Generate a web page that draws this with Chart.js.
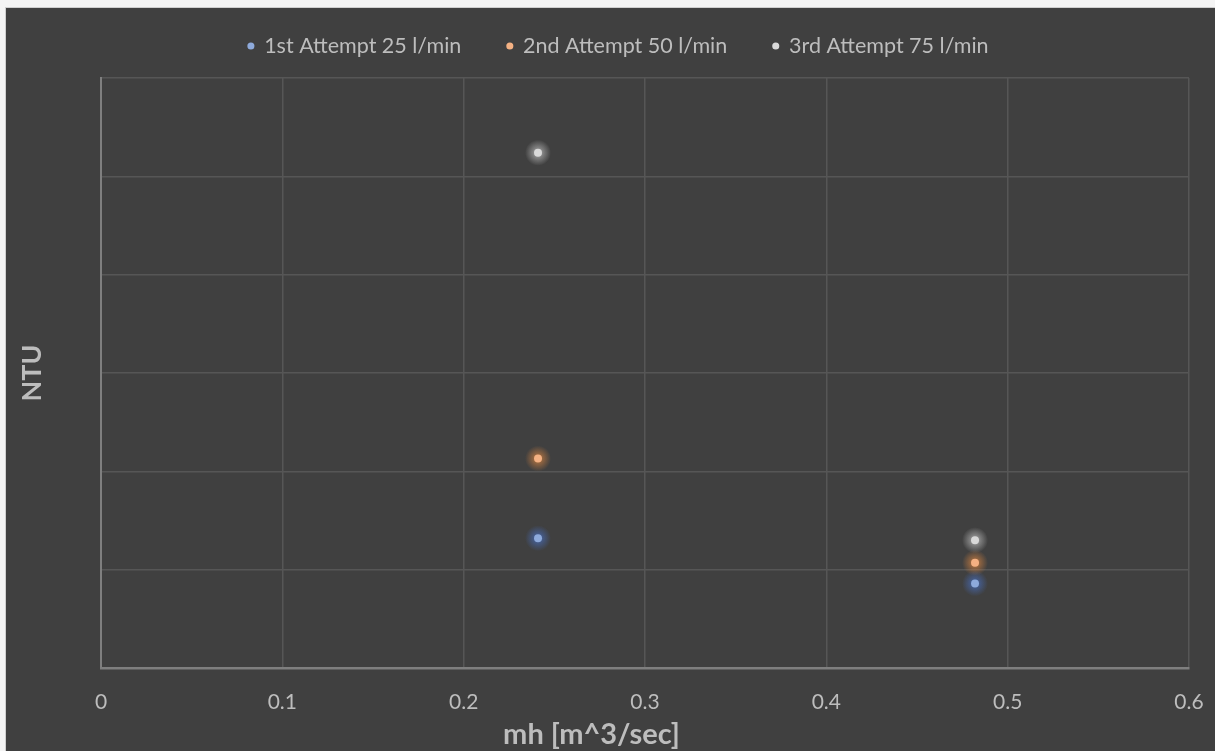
<!DOCTYPE html>
<html>
<head>
<meta charset="utf-8">
<title>NTU vs mh</title>
<script src="https://cdn.jsdelivr.net/npm/chart.js@4/dist/chart.umd.min.js"></script>
<style>
  html, body { margin: 0; padding: 0; background: #f4f4f4; }
  #wrap {
    position: absolute; left: 5px; top: 7px;
    width: 1210px; height: 744px;
    background: #404040;
    border-top: 1px solid #cfcfcf; border-left: 1px solid #cfcfcf;
    box-sizing: border-box;
  }
</style>
</head>
<body>
<div id="wrap"><canvas id="chart"></canvas></div>
<script>
// Flow rate mh [m^3/sec] at which each turbidity reading was taken
const mhValues = [0.241, 0.482];

// Turbidity readings (NTU) for each attempt
const attempt1 = [13.2, 8.6];
const attempt2 = [21.3, 10.7];
const attempt3 = [52.4, 13.0];

const seriesNames = ['1st Attempt 25 l/min', '2nd Attempt 50 l/min', '3rd Attempt 75 l/min'];
const seriesColors = ['#8eaadb', '#f4b183', '#d9d9d9'];
const glowRGB = ['74,118,210', '236,142,66', '210,210,210'];

const xTicks = [0, 0.1, 0.2, 0.3, 0.4, 0.5, 0.6];
const xTitle = 'mh [m^3/sec]';
const yTitle = 'NTU';

const TEXT = '#bdbdbd';
const GRID = '#565656';
const AXIS = '#7f7f7f';
const FONT = 'Lato, "Open Sans", sans-serif';

function toPoints(ys) {
  return mhValues.map((x, i) => ({ x: x, y: ys[i] }));
}

const seriesValues = [attempt1, attempt2, attempt3];
const datasets = seriesValues.map((ys, i) => ({
  label: seriesNames[i],
  data: toPoints(ys),
  backgroundColor: seriesColors[i],
  borderColor: seriesColors[i],
  pointRadius: 4,
  pointBorderWidth: 0,
  glow: glowRGB[i]
}));

// soft halo painted under every marker
const glowPlugin = {
  id: 'glow',
  beforeDatasetDraw(chart, args) {
    const ds = chart.data.datasets[args.index];
    const ctx = chart.ctx;
    ctx.save();
    for (const el of args.meta.data) {
      const g = ctx.createRadialGradient(el.x, el.y, 0, el.x, el.y, 13);
      g.addColorStop(0, 'rgba(' + ds.glow + ',0.75)');
      g.addColorStop(0.45, 'rgba(' + ds.glow + ',0.4)');
      g.addColorStop(1, 'rgba(' + ds.glow + ',0)');
      ctx.fillStyle = g;
      ctx.beginPath();
      ctx.arc(el.x, el.y, 13, 0, Math.PI * 2);
      ctx.fill();
    }
    ctx.restore();
  }
};

// legend sits in a fixed band above the plot
const legendBand = {
  id: 'legendBand',
  afterInit(chart) {
    const lg = chart.legend;
    if (!lg) return;
    const fit = lg.fit;
    lg.fit = function () {
      fit.call(this);
      this.height = 70;
    };
  },
  afterLayout(chart) {
    const lg = chart.legend;
    const pad = lg.options.labels.padding;
    const fs = lg.options.labels.font.size;
    lg.top = 38 - pad - fs / 2;
    lg.bottom = lg.top + lg.height;
    lg.left += 21;
    lg.right += 21;
  }
};

// x-axis caption under the tick labels
const xCaption = {
  id: 'xCaption',
  afterDraw(chart) {
    const ctx = chart.ctx;
    ctx.save();
    ctx.font = 'bold 29px ' + FONT;
    ctx.fillStyle = TEXT;
    ctx.textAlign = 'center';
    ctx.textBaseline = 'middle';
    ctx.fillText(xTitle, chart.width / 2 - 19, 727);
    ctx.restore();
  }
};

new Chart(document.getElementById('chart'), {
  type: 'scatter',
  data: { datasets: datasets },
  plugins: [glowPlugin, legendBand, xCaption],
  options: {
    responsive: true,
    maintainAspectRatio: false,
    animation: false,
    layout: { padding: { left: 0, right: 26, top: 0, bottom: 0 } },
    plugins: {
      tooltip: { enabled: false },
      legend: {
        position: 'top',
        align: 'center',
        labels: {
          color: TEXT,
          font: { family: FONT, size: 21.5 },
          usePointStyle: true,
          pointStyle: 'circle',
          boxWidth: 5,
          boxHeight: 5,
          padding: 46
        }
      }
    },
    scales: {
      x: {
        type: 'linear',
        min: 0,
        max: 0.6,
        afterBuildTicks(scale) {
          scale.ticks = xTicks.map(v => ({ value: v }));
        },
        afterFit(scale) { scale.height = 83; },
        ticks: {
          color: TEXT,
          font: { family: FONT, size: 21 },
          padding: 0,
          callback: v => String(v)
        },
        grid: {
          color: GRID, lineWidth: 1.5,
          drawTicks: true, tickLength: 22, tickColor: 'rgba(0,0,0,0)'
        },
        border: { color: AXIS, width: 2.5 }
      },
      y: {
        type: 'linear',
        min: 0,
        max: 60,
        ticks: { stepSize: 10, display: false },
        afterFit(scale) { scale.width = 95; },
        grid: { color: GRID, lineWidth: 1.5, drawTicks: false },
        border: { color: AXIS, width: 2 },
        title: {
          display: true,
          text: yTitle,
          color: TEXT,
          font: { family: FONT, size: 27, weight: 'bold' },
          padding: { top: 10, bottom: 0 }
        }
      }
    }
  }
});
</script>
</body>
</html>
